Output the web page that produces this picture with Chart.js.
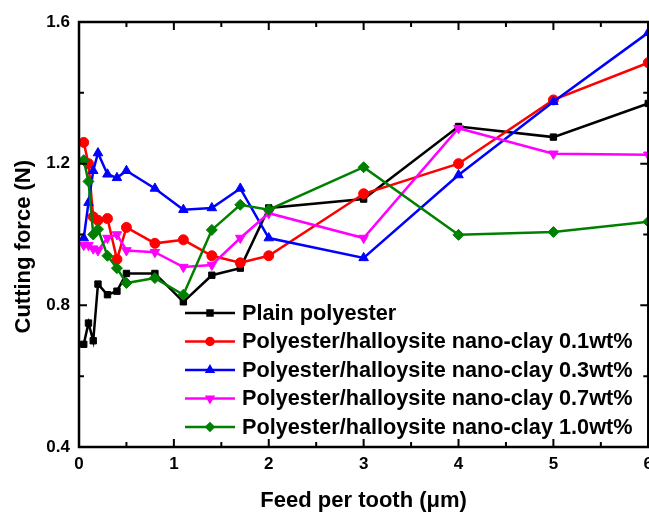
<!DOCTYPE html>
<html>
<head>
<meta charset="utf-8">
<script src="https://cdn.jsdelivr.net/npm/chart.js@4.4.1/dist/chart.umd.min.js"></script>
<style>
  html, body { margin: 0; padding: 0; background: #fff; overflow: hidden; }
  #chart { display: block; }
</style>
</head>
<body>
<canvas id="chart" width="660" height="514"></canvas>
<script>
const feed = [0.05, 0.1, 0.15, 0.2, 0.3, 0.4, 0.5, 0.8, 1.1, 1.4, 1.7, 2, 3, 4, 5, 6];

const plainPolyester = [0.69, 0.75, 0.70, 0.86, 0.83, 0.84, 0.89, 0.89, 0.81, 0.885, 0.905, 1.075, 1.10, 1.305, 1.275, 1.37];
const clay01 = [1.26, 1.20, 1.05, 1.04, 1.045, 0.93, 1.02, 0.975, 0.985, 0.94, 0.92, 0.94, 1.115, 1.20, 1.38, 1.485];
const clay03 = [0.99, 1.09, 1.18, 1.23, 1.17, 1.16, 1.18, 1.13, 1.07, 1.075, 1.13, 0.99, 0.934, 1.168, 1.375, 1.57];
const clay07 = [0.97, 0.97, 0.96, 0.955, 0.99, 1.0, 0.955, 0.95, 0.908, 0.914, 0.99, 1.06, 0.99, 1.30, 1.228, 1.225];
const clay10 = [1.21, 1.15, 1.00, 1.015, 0.94, 0.905, 0.863, 0.877, 0.83, 1.013, 1.084, 1.07, 1.19, 0.999, 1.007, 1.036];

const seriesLabels = [
  "Plain polyester",
  "Polyester/halloysite nano-clay 0.1wt%",
  "Polyester/halloysite nano-clay 0.3wt%",
  "Polyester/halloysite nano-clay 0.7wt%",
  "Polyester/halloysite nano-clay 1.0wt%",
];
const seriesValues = [plainPolyester, clay01, clay03, clay07, clay10];
const seriesColors = ["#000000", "#ff0000", "#0000ff", "#ff00ff", "#008000"];
const seriesMarkers = ["rect", "circle", "triangle", "triangle", "rectRot"];
const seriesRotation = [0, 0, 0, 180, 0];
const seriesRadius = [4.5, 5, 5.5, 5.5, 5.5];

const xTickValues = [0, 1, 2, 3, 4, 5, 6];
const yTickValues = [0.4, 0.8, 1.2, 1.6];

const FONT = "'Liberation Sans', Arial, sans-serif";

// frame on all four sides with inward ticks, like the original plot
const framePlugin = {
  id: "frame",
  afterDatasetsDraw(chart) {
    const { ctx, chartArea, scales } = chart;
    const { left, right, top, bottom } = chartArea;
    ctx.save();
    ctx.strokeStyle = "#000";
    ctx.lineWidth = 2.5;
    ctx.strokeRect(left, top, right - left, bottom - top);
    ctx.lineWidth = 2;
    ctx.beginPath();
    for (let i = 0; i <= 12; i++) {
      const px = scales.x.getPixelForValue(i * 0.5);
      const len = i % 2 === 0 ? 8 : 5;
      ctx.moveTo(px, bottom); ctx.lineTo(px, bottom - len);
      ctx.moveTo(px, top); ctx.lineTo(px, top + len);
    }
    for (let i = 0; i <= 6; i++) {
      const py = scales.y.getPixelForValue(0.4 + i * 0.2);
      const len = i % 2 === 0 ? 8 : 5;
      ctx.moveTo(left, py); ctx.lineTo(left + len, py);
      ctx.moveTo(right, py); ctx.lineTo(right - len, py);
    }
    ctx.stroke();
    ctx.restore();
  },
};

// legend drawn inside the plot area, lower middle
const legendPlugin = {
  id: "insideLegend",
  afterDraw(chart) {
    const { ctx } = chart;
    ctx.save();
    ctx.font = "bold 21.7px " + FONT;
    ctx.textBaseline = "middle";
    chart.data.datasets.forEach((ds, i) => {
      const y = 313 + i * 28.5;
      ctx.strokeStyle = ds.borderColor;
      ctx.lineWidth = 2.5;
      ctx.beginPath();
      ctx.moveTo(185, y);
      ctx.lineTo(235, y);
      ctx.stroke();
      ctx.fillStyle = ds.borderColor;
      Chart.helpers.drawPoint(ctx, {
        pointStyle: ds.pointStyle,
        radius: 3.5,
        rotation: ds.pointRotation,
        borderWidth: 1,
      }, 210, y);
      ctx.fillStyle = "#000";
      ctx.fillText(ds.label, 242, y + 1);
    });
    ctx.restore();
  },
};

const datasets = seriesLabels.map((label, i) => ({
  label,
  data: feed.map((f, j) => ({ x: f, y: seriesValues[i][j] })),
  borderColor: seriesColors[i],
  backgroundColor: seriesColors[i],
  pointBackgroundColor: seriesColors[i],
  pointBorderColor: seriesColors[i],
  borderWidth: 2.5,
  pointStyle: seriesMarkers[i],
  pointRotation: seriesRotation[i],
  pointRadius: seriesRadius[i],
  pointBorderWidth: 1,
  tension: 0,
  order: 4 - i,
}));

new Chart(document.getElementById("chart"), {
  type: "line",
  data: { datasets },
  plugins: [framePlugin, legendPlugin],
  options: {
    responsive: false,
    animation: false,
    clip: false,
    layout: { padding: { top: 22, right: 9, left: 0, bottom: 0 } },
    plugins: {
      legend: { display: false },
      tooltip: { enabled: false },
    },
    scales: {
      x: {
        type: "linear",
        min: 0,
        max: 6,
        afterFit: (scale) => { scale.height = 67; },
        afterBuildTicks: (scale) => { scale.ticks = xTickValues.map((v) => ({ value: v })); },
        grid: { display: false, drawTicks: false },
        border: { display: false },
        ticks: {
          color: "#000",
          font: { family: FONT, size: 17, weight: "bold" },
          padding: 7,
          maxRotation: 0,
        },
        title: {
          display: true,
          text: "Feed per tooth (\u03bcm)",
          color: "#000",
          font: { family: FONT, size: 22, weight: "bold" },
          padding: { top: 6, bottom: 0 },
        },
      },
      y: {
        type: "linear",
        min: 0.4,
        max: 1.6,
        afterFit: (scale) => { scale.width = 79; },
        afterBuildTicks: (scale) => { scale.ticks = yTickValues.map((v) => ({ value: v })); },
        grid: { display: false, drawTicks: false },
        border: { display: false },
        ticks: {
          color: "#000",
          font: { family: FONT, size: 17, weight: "bold" },
          padding: 9,
          callback: (v) => v.toFixed(1),
        },
        title: {
          display: true,
          text: "Cutting force (N)    ",
          color: "#000",
          font: { family: FONT, size: 22, weight: "bold" },
          padding: { top: 11, bottom: 0 },
        },
      },
    },
  },
});
</script>
</body>
</html>
